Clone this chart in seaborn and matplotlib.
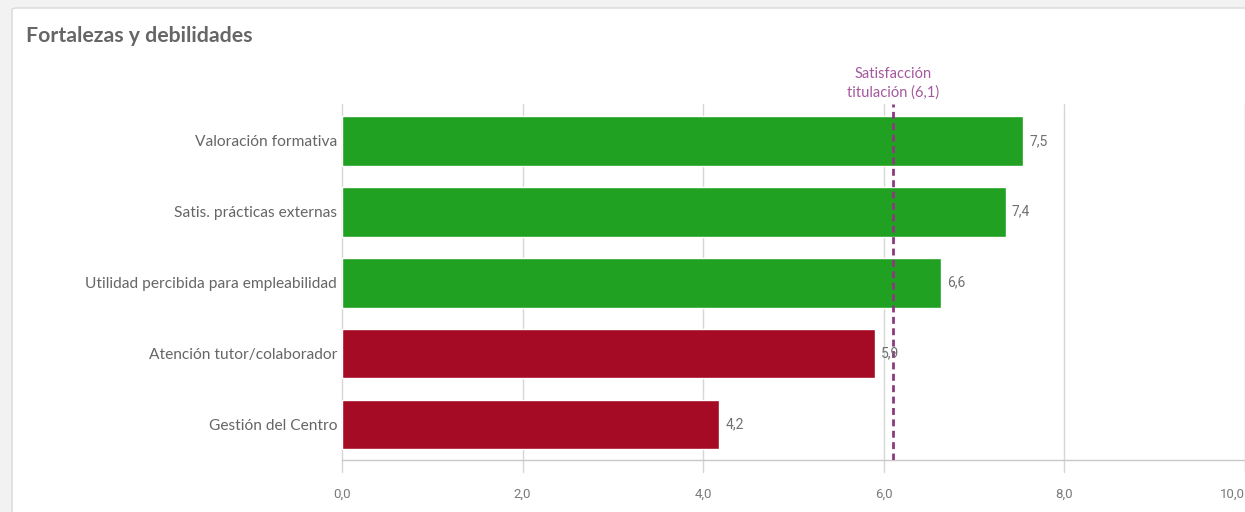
import matplotlib
matplotlib.use("Agg")
import matplotlib.pyplot as plt
import seaborn as sns
import pandas as pd
from matplotlib.patches import FancyBboxPatch

# data
categorias = ["Valoración formativa", "Satis. prácticas externas",
              "Utilidad percibida para empleabilidad",
              "Atención tutor/colaborador", "Gestión del Centro"]
valores = [7.54, 7.35, 6.63, 5.90, 4.18]
etiquetas = ["7,5", "7,4", "6,6", "5,9", "4,2"]
tipo = ["fortaleza", "fortaleza", "fortaleza", "debilidad", "debilidad"]
media_titulacion = 6.1
ticks_x = [0, 2, 4, 6, 8, 10]
ticks_lbl = ["0,0", "2,0", "4,0", "6,0", "8,0", "10,0"]

colores = {"fortaleza": "#21a121", "debilidad": "#a50b25"}

df = pd.DataFrame({"cat": categorias, "valor": valores, "tipo": tipo})

sns.set_style("white")
plt.rcParams["font.family"] = ["Lato", "DejaVu Sans"]

fig = plt.figure(figsize=(12.45, 5.12), dpi=100)
fig.patch.set_facecolor("#f2f2f2")
card = FancyBboxPatch((12 / 1245, -0.05), 1.05, (512 - 8) / 512 + 0.05,
                      boxstyle="round,pad=0,rounding_size=0.004",
                      transform=fig.transFigure, facecolor="white",
                      edgecolor="#d9d9d9", linewidth=1.0, zorder=-10)
fig.patches.append(card)

fig.text(26 / 1245, 1 - 36 / 512, "Fortalezas y debilidades", fontsize=15.3,
         fontweight="bold", color="#666666", va="center", ha="left")

# axes: x=0 at px 342, x=10 at px 1245; y top 104, bottom 460
left = 342 / 1245
width = (1245 - 342) / 1245
bottom = 1 - 460 / 512
height = (460 - 104) / 512
ax = fig.add_axes([left, bottom, width, height])
ax.set_facecolor("none")

sns.barplot(data=df, y="cat", x="valor", hue="tipo", palette=colores,
            orient="h", width=0.7, dodge=False, legend=False, ax=ax,
            saturation=1, zorder=3)

ax.set_xlim(0, 10)
ax.set_ylim(4.5, -0.52)
ax.set_xlabel("")
ax.set_ylabel("")

for x in ticks_x:
    ax.axvline(x, color="#d6d6d6", linewidth=1, zorder=1, clip_on=False,
               ymin=-12 / 356, ymax=1)

ax.set_xticks(ticks_x)
ax.set_xticklabels(ticks_lbl, fontfamily="Roboto", fontsize=9.5,
                   color="#7a7a7a")
# last label sits at the figure edge: keep it inside
ax.get_xticklabels()[-1].set_horizontalalignment("right")
ax.tick_params(axis="x", length=0, pad=20)
ax.tick_params(axis="y", length=0, pad=3.5, labelsize=11.2,
               labelcolor="#666666")

for s in ["top", "right", "left"]:
    ax.spines[s].set_visible(False)
ax.spines["bottom"].set_color("#c8c8c8")
ax.spines["bottom"].set_linewidth(1)

for i, (v, t) in enumerate(zip(valores, etiquetas)):
    ax.annotate(t, (v, i), xytext=(4.5, 0), textcoords="offset points",
                va="center", ha="left", fontsize=10,
                fontfamily="Roboto", color="#707070", zorder=5)

ax.axvline(media_titulacion, color="#8b3a80", linestyle=(0, (2.5, 1.6)),
           linewidth=2, zorder=4)
ax.annotate("Satisfacción\ntitulación (6,1)", (media_titulacion, -0.52),
            xytext=(0, 3), textcoords="offset points", ha="center",
            va="bottom", fontsize=10.5, color="#a4589e", linespacing=1.4,
            annotation_clip=False)

fig.savefig("out.png", dpi=100)
